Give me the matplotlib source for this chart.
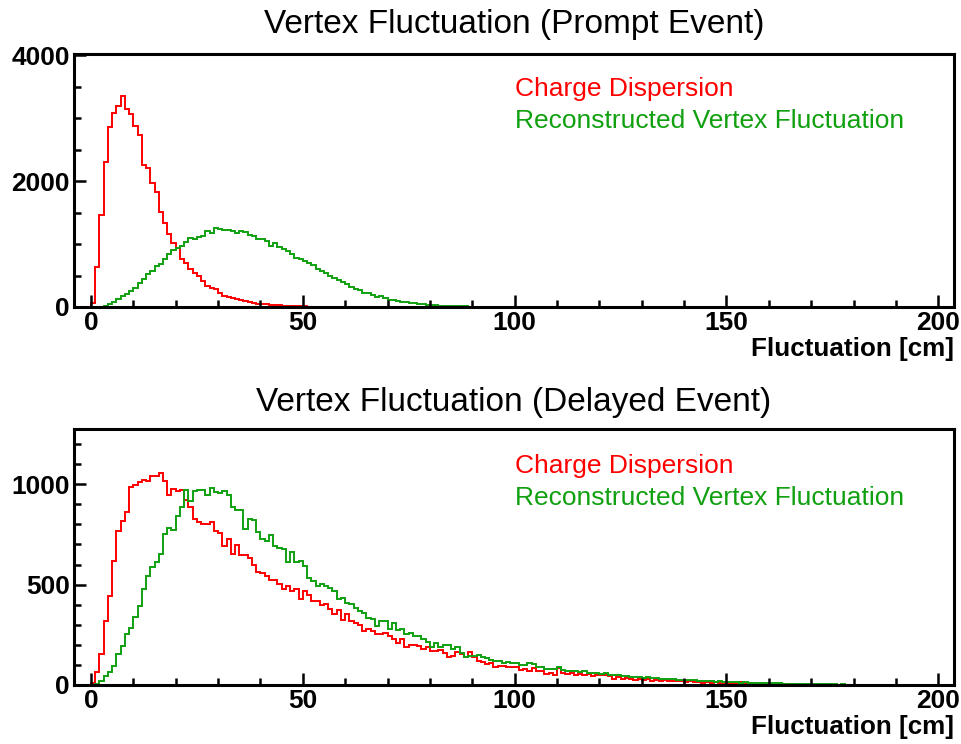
import numpy as np
import matplotlib
matplotlib.use("Agg")
import matplotlib.pyplot as plt
from matplotlib.ticker import MultipleLocator

plt.rcParams['font.family'] = ['Liberation Sans', 'DejaVu Sans']

# 1 cm bins from 0 to 200
bin_edges = np.arange(0, 201, 1)

# prompt event, charge dispersion (bins 0..60, zero afterwards)
prompt_charge = [70, 640, 1455, 2300, 2868, 3083, 3200, 3360, 3147, 3068,
                 2873, 2735, 2254, 2211, 1963, 1825, 1508, 1338, 1164, 1020,
                 931, 767, 703, 608, 544, 492, 413, 333, 306, 281,
                 227, 175, 160, 140, 120, 105, 95, 80, 65, 55,
                 45, 40, 35, 30, 25, 20, 18, 15, 12, 10,
                 8, 7, 6, 5, 4, 3, 3, 2, 2, 1, 1]

# prompt event, reconstructed vertex fluctuation (bins 0..97)
prompt_vertex = [0, 0, 5, 16, 43, 80, 122, 175, 200, 254,
                 306, 386, 440, 519, 571, 651, 690, 767, 836, 900,
                 940, 975, 1040, 1100, 1085, 1120, 1130, 1215, 1180, 1255,
                 1235, 1225, 1220, 1205, 1170, 1215, 1190, 1150, 1125, 1075,
                 1085, 1045, 968, 1020, 950, 915, 890, 836, 783, 757,
                 730, 703, 662, 608, 571, 544, 492, 460, 430, 395,
                 365, 320, 290, 265, 230, 215, 195, 165, 175, 140,
                 115, 105, 95, 85, 72, 64, 57, 50, 42, 36,
                 30, 26, 22, 20, 17, 15, 12, 10, 8, 7,
                 6, 5, 4, 3, 2, 2, 1, 1]

# delayed event, charge dispersion (bins 0..189)
delayed_charge = [10, 66, 154, 319, 443, 620, 766, 816, 860, 986,
                  998, 1009, 1023, 1014, 1039, 1043, 1056, 1014, 948, 976,
                  965, 970, 923, 885, 827, 811, 804, 804, 811, 766,
                  758, 692, 725, 650, 697, 645, 645, 634, 596, 565,
                  559, 543, 521, 521, 501, 477, 493, 468, 477, 427,
                  468, 448, 418, 418, 399, 402, 377, 352, 372, 323,
                  356, 319, 311, 300, 270, 278, 270, 253, 253, 261,
                  245, 228, 207, 228, 190, 200, 200, 195, 179, 187,
                  170, 167, 174, 157, 137, 146, 162, 154, 137, 162,
                  137, 121, 115, 105, 110, 92, 97, 95, 90, 92,
                  88, 75, 80, 70, 84, 71, 68, 56, 60, 52,
                  85, 60, 55, 62, 50, 55, 48, 56, 45, 52,
                  48, 50, 45, 30, 38, 28, 35, 30, 27, 32,
                  25, 28, 22, 26, 20, 24, 22, 18, 21, 20,
                  17, 19, 14, 16, 12, 15, 11, 13, 10, 12,
                  9, 10, 8, 14, 7, 9, 6, 7, 5, 6,
                  4, 5, 4, 3, 4, 3, 2, 3, 2, 2,
                  1, 2, 1, 1, 2, 1, 1, 0, 1, 1,
                  0, 1, 0, 1, 0, 0, 1, 0, 1, 0]

# delayed event, reconstructed vertex fluctuation (bins 0..189)
delayed_vertex = [0, 5, 21, 46, 66, 96, 154, 195, 253, 286,
                  341, 394, 477, 543, 587, 612, 650, 750, 783, 774,
                  844, 887, 970, 915, 965, 970, 970, 948, 981, 960,
                  956, 965, 948, 887, 874, 874, 778, 827, 824, 761,
                  725, 716, 746, 692, 683, 675, 614, 662, 614, 617,
                  592, 531, 518, 493, 504, 493, 485, 468, 427, 435,
                  410, 405, 382, 369, 360, 336, 328, 294, 319, 319,
                  278, 311, 273, 278, 253, 261, 245, 245, 228, 212,
                  190, 207, 187, 200, 200, 179, 187, 157, 141, 146,
                  146, 150, 140, 132, 125, 118, 120, 112, 115, 110,
                  108, 102, 98, 110, 106, 92, 90, 80, 78, 82,
                  91, 75, 72, 70, 68, 65, 70, 62, 60, 58,
                  55, 60, 50, 48, 52, 46, 44, 40, 42, 38,
                  36, 38, 33, 35, 30, 32, 28, 30, 27, 25,
                  26, 23, 24, 21, 22, 19, 20, 17, 18, 16,
                  15, 14, 15, 12, 13, 11, 12, 10, 11, 9,
                  9, 8, 8, 7, 7, 6, 6, 5, 5, 4,
                  5, 4, 4, 3, 3, 3, 2, 3, 2, 2,
                  2, 1, 2, 1, 1, 1, 1, 0, 1, 0]


def pad(vals):
    return np.array(vals + [0] * (200 - len(vals)), float)


titles = ["Vertex Fluctuation (Prompt Event)", "Vertex Fluctuation (Delayed Event)"]
labels = ["Charge Dispersion", "Reconstructed Vertex Fluctuation"]
red = '#ff0000'
green = '#10a010'

fig = plt.figure(figsize=(9.61, 7.44), dpi=100)
W, H = 961, 744
ax1 = fig.add_axes([74 / W, 1 - 307 / H, 880 / W, 253 / H])
ax2 = fig.add_axes([74 / W, 1 - 685 / H, 880 / W, 256 / H])

panels = [(ax1, prompt_charge, prompt_vertex, 4020, 2000, 500, 15, (0.862, 0.735)),
          (ax2, delayed_charge, delayed_vertex, 1275, 500, 100, 13, (0.855, 0.730))]

for (ax, charge, vertex, ytop, ymaj, ymin, tpad, ly), title in zip(panels, titles):
    ax.stairs(pad(charge), bin_edges, color=red, lw=1.4)
    ax.stairs(pad(vertex), bin_edges, color=green, lw=1.4)
    ax.set_xlim(-4, 203.7)
    ax.set_ylim(0, ytop)
    ax.xaxis.set_major_locator(MultipleLocator(50))
    ax.xaxis.set_minor_locator(MultipleLocator(10))
    ax.yaxis.set_major_locator(MultipleLocator(ymaj))
    ax.yaxis.set_minor_locator(MultipleLocator(ymin))
    ax.tick_params(which='both', direction='in', top=False, right=False,
                   width=1.8, labelsize=19, pad=3)
    ax.tick_params(which='major', length=8.5)
    ax.tick_params(which='minor', length=5)
    for lab in ax.get_xticklabels() + ax.get_yticklabels():
        lab.set_fontweight('bold')
    for sp in ax.spines.values():
        sp.set_linewidth(2.2)
    ax.set_xlabel("Fluctuation [cm]", loc='right', fontsize=18.7,
                  fontweight='bold', labelpad=1)
    ax.set_title(title, fontsize=24, pad=tpad)
    ax.text(0.5006, ly[0], labels[0], color=red, fontsize=19,
            transform=ax.transAxes, va='center')
    ax.text(0.5006, ly[1], labels[1], color=green, fontsize=19,
            transform=ax.transAxes, va='center')

fig.savefig("out.png", dpi=100)
